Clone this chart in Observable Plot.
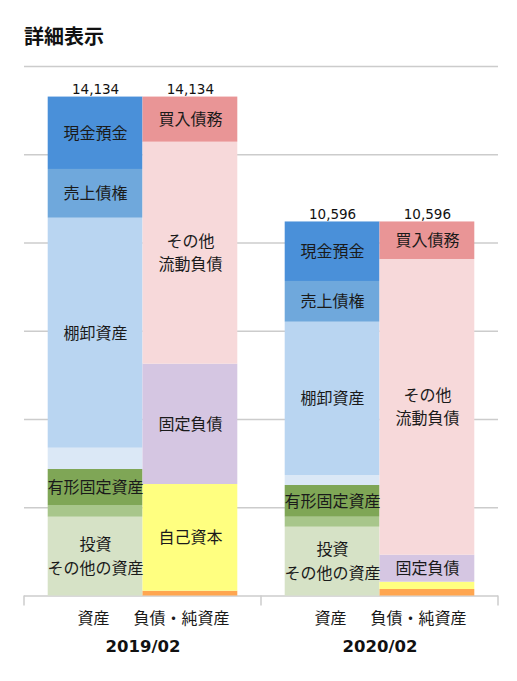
<!DOCTYPE html>
<html>
<head>
<meta charset="utf-8">
<script src="https://cdn.jsdelivr.net/npm/d3@7"></script>
<script src="https://cdn.jsdelivr.net/npm/@observablehq/plot@0.6"></script>
<style>
  body { margin: 0; background: #fff; width: 517px; height: 681px; position: relative; overflow: hidden; }
  #title { position: absolute; left: 24px; top: 25px; font: bold 20px/22px "Noto Sans CJK JP", sans-serif; color: #111; }
  #chart { position: absolute; left: 0; top: 50px; }
</style>
</head>
<body>
<div id="title">詳細表示</div>
<div id="chart"></div>
<script>
const years = ["2019/02", "2020/02"];
const sides = ["資産", "負債・純資産"];
const totals = [14134, 10596];

// top-down order
const assetCategories = ["現金預金", "売上債権", "棚卸資産", "その他流動資産", "有形固定資産", "無形固定資産", "投資その他の資産"];
const assetLabels = ["現金預金", "売上債権", "棚卸資産", "", "有形固定資産", "", "投資\nその他の資産"];
const assetColors = ["#4a90d9", "#6fa8dc", "#b9d5f1", "#dbe8f6", "#7fa656", "#a8c68b", "#d6e2c6"];
const assets2019 = [2051, 1380, 6516, 603, 1020, 332, 2232];
const assets2020 = [1686, 1153, 4343, 283, 899, 283, 1949];

const liabCategories = ["買入債務", "その他流動負債", "固定負債", "自己資本", "その他純資産"];
const liabLabels = ["買入債務", "その他\n流動負債", "固定負債", "自己資本", ""];
const liabColors = ["#e99596", "#f7d9da", "#d5c6e2", "#ffff80", "#ffa650"];
const liab2019 = [1278, 6289, 3408, 3023, 136];
const liab2020 = [1063, 8377, 765, 207, 184];

const yTicks = [0, 2500, 5000, 7500, 10000, 12500, 15000];

// build rows bottom-up for stacking
const rows = [];
function addRows(year, side, cats, labels, values) {
  for (let i = cats.length - 1; i >= 0; --i) {
    rows.push({year, side, category: cats[i], label: labels[i], value: values[i]});
  }
}
addRows(years[0], sides[0], assetCategories, assetLabels, assets2019);
addRows(years[0], sides[1], liabCategories, liabLabels, liab2019);
addRows(years[1], sides[0], assetCategories, assetLabels, assets2020);
addRows(years[1], sides[1], liabCategories, liabLabels, liab2020);

const totalRows = [];
years.forEach((y, i) => sides.forEach(s => totalRows.push({year: y, side: s, total: totals[i]})));

const chart = Plot.plot({
  width: 517,
  height: 631,
  marginTop: 16,
  marginBottom: 85.5,
  marginLeft: 24,
  marginRight: 19,
  style: {fontFamily: "'Noto Sans CJK JP', sans-serif", fontSize: "16px", color: "#1a1a1a", background: "transparent"},
  fx: {domain: years, padding: 0, label: null},
  x: {domain: sides, paddingInner: 0, paddingOuter: 0.25, label: null, round: false},
  y: {domain: [0, 15000], axis: null},
  color: {domain: [...assetCategories, ...liabCategories], range: [...assetColors, ...liabColors]},
  marks: [
    Plot.ruleY(yTicks, {stroke: "#cccccc", strokeWidth: 1.5}),
    Plot.barY(rows, {fx: "year", x: "side", y: "value", fill: "category", z: "category"}),
    Plot.text(rows, Plot.stackY({
      fx: "year", x: "side", y: "value", z: "category",
      text: d => d.value >= 700 ? d.label : "",
      fill: "#1a1a1a", fontSize: 16, lineHeight: 1.45, lineAnchor: "middle", dy: -2
    })),
    Plot.text(totalRows, {
      fx: "year", x: "side", y: "total",
      text: d => d3.format(",")(d.total),
      lineAnchor: "bottom", dy: -3, fontSize: 13.5, fontFamily: "DejaVu Sans", fill: "#111"
    }),
    Plot.axisX(["資産"], {anchor: "bottom", tickSize: 0, tickPadding: 17, fontSize: 16, dx: -2, fill: "#1a1a1a", label: null}),
    Plot.axisX(["負債・純資産"], {anchor: "bottom", tickSize: 0, tickPadding: 17, fontSize: 16, dx: -9, fill: "#1a1a1a", label: null}),
    Plot.axisFx({anchor: "bottom", tickSize: 0, tickPadding: 44, fontSize: 16.5, fontWeight: "bold", fontFamily: "DejaVu Sans", fill: "#111", label: null})
  ]
});

document.getElementById("chart").appendChild(chart);

// facet boundary ticks on the baseline, placed with the plot's own scales
const fx = chart.scale("fx");
const ys = chart.scale("y");
const y0 = ys.apply(0);
const edges = years.map(y => fx.apply(y));
edges.push(fx.apply(years[years.length - 1]) + fx.bandwidth);
d3.select(chart).append("g")
  .attr("stroke", "#cccccc").attr("stroke-width", 1.5)
  .selectAll("line").data(edges).join("line")
  .attr("x1", d => d).attr("x2", d => d)
  .attr("y1", y0).attr("y2", y0 + 10);
</script>
</body>
</html>
